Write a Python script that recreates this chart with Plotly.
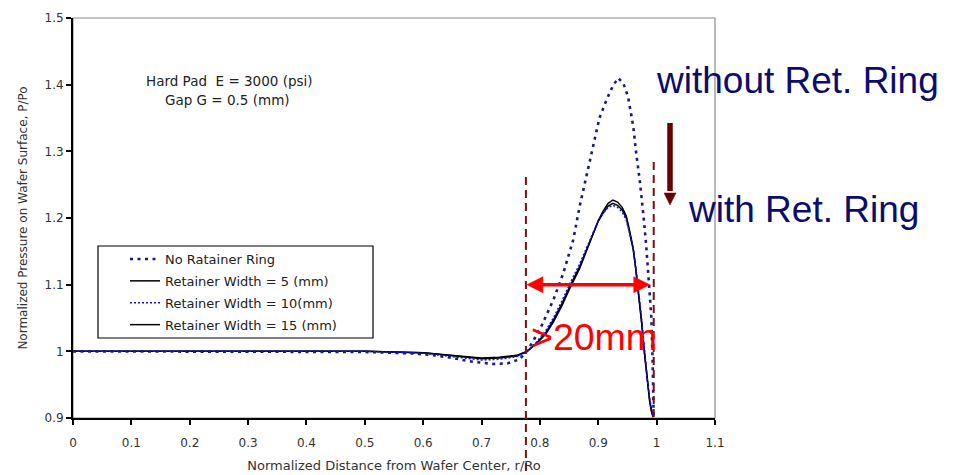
import plotly.graph_objects as go

# ---------------- data ----------------
x_noring = [0, 0.1, 0.2, 0.3, 0.4, 0.5, 0.58, 0.62, 0.65, 0.68, 0.72, 0.745, 0.765, 0.78,
            0.80, 0.823, 0.84, 0.857, 0.868, 0.882, 0.894, 0.902, 0.914, 0.925, 0.934,
            0.943, 0.951, 0.96, 0.965, 0.971, 0.977, 0.982, 0.987, 0.991, 0.993, 0.995]
y_noring = [1.0, 1.0, 1.0, 1.0, 1.0, 0.999, 0.997, 0.994, 0.99, 0.985, 0.981, 0.982, 0.988, 1.003,
            1.033, 1.077, 1.117, 1.167, 1.217, 1.272, 1.317, 1.35, 1.377, 1.398, 1.41,
            1.402, 1.382, 1.337, 1.297, 1.257, 1.207, 1.16, 1.1, 1.05, 0.99, 0.9]

x_w5 = [0, 0.1, 0.2, 0.3, 0.4, 0.5, 0.6, 0.65, 0.7, 0.73, 0.76, 0.777, 0.794, 0.81, 0.823,
        0.838, 0.851, 0.868, 0.881, 0.891, 0.9, 0.908, 0.917, 0.925, 0.933, 0.941, 0.948,
        0.954, 0.96, 0.964, 0.968, 0.974, 0.979, 0.984, 0.988, 0.991, 0.994]
y_w5 = [1.0, 1.0, 1.0, 1.0, 1.0, 1.0, 0.998, 0.993, 0.989, 0.99, 0.993, 0.999, 1.012, 1.028, 1.047,
        1.072, 1.097, 1.127, 1.155, 1.177, 1.195, 1.207, 1.218, 1.222, 1.219, 1.212, 1.2,
        1.177, 1.152, 1.125, 1.097, 1.047, 1.0, 0.955, 0.927, 0.912, 0.902]

x_w10 = [0, 0.1, 0.2, 0.3, 0.4, 0.5, 0.6, 0.65, 0.7, 0.73, 0.76, 0.777, 0.794, 0.81, 0.823,
         0.838, 0.851, 0.868, 0.881, 0.891, 0.9, 0.908, 0.917, 0.925, 0.933, 0.941, 0.948,
         0.954, 0.96, 0.964, 0.968, 0.974, 0.979, 0.984, 0.988, 0.991, 0.994]
y_w10 = [1.0, 1.0, 1.0, 1.0, 1.0, 1.0, 0.997, 0.992, 0.987, 0.988, 0.992, 0.999, 1.014, 1.031, 1.05,
         1.076, 1.101, 1.131, 1.158, 1.179, 1.196, 1.207, 1.216, 1.219, 1.216, 1.209, 1.197,
         1.176, 1.153, 1.127, 1.1, 1.05, 1.002, 0.958, 0.93, 0.914, 0.903]

x_w15 = [0, 0.1, 0.2, 0.3, 0.4, 0.5, 0.6, 0.65, 0.7, 0.73, 0.76, 0.777, 0.794, 0.81, 0.823,
         0.838, 0.851, 0.868, 0.881, 0.891, 0.9, 0.908, 0.917, 0.925, 0.933, 0.941, 0.948,
         0.954, 0.96, 0.964, 0.968, 0.974, 0.979, 0.984, 0.988, 0.991, 0.994]
y_w15 = [1.0, 1.0, 1.0, 1.0, 1.0, 1.0, 0.998, 0.994, 0.99, 0.991, 0.994, 1.0, 1.011, 1.026, 1.044,
         1.069, 1.094, 1.124, 1.153, 1.176, 1.196, 1.21, 1.222, 1.227, 1.224, 1.216, 1.203,
         1.18, 1.154, 1.126, 1.097, 1.045, 0.998, 0.953, 0.925, 0.91, 0.901]

names = ["No Ratainer Ring", "Retainer Width = 5 (mm)",
         "Retainer Width = 10(mm)", "Retainer Width = 15 (mm)"]

x_ticks = [0, 0.1, 0.2, 0.3, 0.4, 0.5, 0.6, 0.7, 0.8, 0.9, 1.0, 1.1]
x_ticklabels = ["0", "0.1", "0.2", "0.3", "0.4", "0.5", "0.6", "0.7", "0.8", "0.9", "1", "1.1"]
y_ticks = [0.9, 1.0, 1.1, 1.2, 1.3, 1.4, 1.5]
y_ticklabels = ["0.9", "1", "1.1", "1.2", "1.3", "1.4", "1.5"]

# zone markers (data units)
zone_left = 0.776
zone_right = 0.995
arrow_y = 1.1

# ---------------- figure ----------------
W, H = 960, 475
ML, MR, MT, MB = 73, 245, 18, 57
PW, PH = W - ML - MR, H - MT - MB


def px_x(px):
    return (px - ML) / PW


def px_y(py):
    return (H - MB - py) / PH


small_font = dict(family="DejaVu Sans", size=12, color="#333333")

fig = go.Figure()

fig.add_trace(go.Scatter(x=x_w5, y=y_w5, mode="lines", name=names[1], legendrank=2,
                         legendgroup="g2", line=dict(color="black", width=1.5)))
fig.add_trace(go.Scatter(x=x_w15, y=y_w15, mode="lines", name=names[3], legendrank=4,
                         legendgroup="g4", line=dict(color="black", width=1.5)))
fig.add_trace(go.Scatter(x=x_w10, y=y_w10, mode="lines", name=names[2], legendrank=3,
                         legendgroup="g3", line=dict(color="#1010ff", width=1.5, dash="2px,2px")))
fig.add_trace(go.Scatter(x=x_noring, y=y_noring, mode="lines", name=names[0], legendrank=1,
                         legendgroup="g1", line=dict(color="#18188a", width=2.6, dash="3px,4.5px")))

shapes = []
# plot frame (grey top/right)
shapes.append(dict(type="rect", xref="paper", yref="paper", x0=0, x1=1, y0=0, y1=1,
                   line=dict(color="#8c8c8c", width=1.2), layer="below"))
# legend box
shapes.append(dict(type="rect", xref="paper", yref="paper",
                   x0=px_x(98), x1=px_x(373), y0=px_y(338), y1=px_y(246),
                   line=dict(color="black", width=1.2), fillcolor="white", layer="below"))
# dashed zone lines
dash_col = "#7a1212"
shapes.append(dict(type="line", xref="paper", yref="paper",
                   x0=zone_left / 1.1, x1=zone_left / 1.1, y0=px_y(177), y1=px_y(475),
                   line=dict(color=dash_col, width=2, dash="8px,5px")))
shapes.append(dict(type="line", xref="paper", yref="paper",
                   x0=zone_right / 1.1, x1=zone_right / 1.1, y0=px_y(162), y1=px_y(420),
                   line=dict(color=dash_col, width=2, dash="8px,5px")))
# red double arrow
ux = 1.1 / PW   # data per px in x
uy = 0.6 / PH   # data per px in y
a0, a1 = zone_left + 1 * ux, zone_right - 4 * ux
hl, hw = 16 * ux, 8 * uy
shapes.append(dict(type="line", x0=a0 + hl * 0.8, x1=a1 - hl * 0.8, y0=arrow_y, y1=arrow_y,
                   line=dict(color="#ff0000", width=3.5)))
shapes.append(dict(type="path", path=f"M{a0},{arrow_y} L{a0 + hl},{arrow_y + hw} L{a0 + hl},{arrow_y - hw} Z",
                   fillcolor="#ff0000", line=dict(color="#ff0000", width=0.5)))
shapes.append(dict(type="path", path=f"M{a1},{arrow_y} L{a1 - hl},{arrow_y + hw} L{a1 - hl},{arrow_y - hw} Z",
                   fillcolor="#ff0000", line=dict(color="#ff0000", width=0.5)))
# dark red down arrow
dx = (670 - ML) * ux
y_top = 1.5 - (123 - MT) * uy
y_hb = 1.5 - (193 - MT) * uy
y_tip = 1.5 - (205 - MT) * uy
shapes.append(dict(type="line", x0=dx, x1=dx, y0=y_top, y1=y_hb + 2 * uy,
                   line=dict(color="#660000", width=5.5)))
shapes.append(dict(type="path", path=f"M{dx - 6 * ux},{y_hb} L{dx + 6 * ux},{y_hb} L{dx},{y_tip} Z",
                   fillcolor="#660000", line=dict(color="#660000", width=0.5)))

annotations = [
    dict(text="Hard Pad  E = 3000 (psi)", x=px_x(229), y=px_y(81), xref="paper", yref="paper",
         xanchor="center", yanchor="middle", showarrow=False,
         font=dict(family="DejaVu Sans", size=13.5, color="#222222")),
    dict(text="Gap G = 0.5 (mm)", x=px_x(227.5), y=px_y(100), xref="paper", yref="paper",
         xanchor="center", yanchor="middle", showarrow=False,
         font=dict(family="DejaVu Sans", size=13.5, color="#222222")),
    dict(text="without Ret. Ring", x=px_x(654), y=px_y(81), xref="paper", yref="paper",
         xanchor="left", yanchor="middle", showarrow=False,
         font=dict(family="Liberation Sans", size=37, color="#0c0c6e")),
    dict(text="with Ret. Ring", x=px_x(686), y=px_y(209), xref="paper", yref="paper",
         xanchor="left", yanchor="middle", showarrow=False,
         font=dict(family="Liberation Sans", size=37, color="#0c0c6e")),
    dict(text="&gt;20mm", x=px_x(529), y=px_y(337), xref="paper", yref="paper",
         xanchor="left", yanchor="middle", showarrow=False,
         font=dict(family="Liberation Sans", size=37.5, color="#ff0000")),
]

fig.update_layout(
    width=W, height=H, autosize=False,
    margin=dict(l=ML, r=MR, t=MT, b=MB, pad=0, autoexpand=False),
    paper_bgcolor="white", plot_bgcolor="white",
    showlegend=True,
    legend=dict(x=px_x(125), y=px_y(244), xanchor="left", yanchor="top",
                bgcolor="rgba(0,0,0,0)", borderwidth=0, tracegroupgap=2,
                font=dict(family="DejaVu Sans", size=13, color="#222222"),
                traceorder="grouped"),
    shapes=shapes,
    annotations=annotations,
    xaxis=dict(range=[0, 1.1], tickvals=x_ticks, ticktext=x_ticklabels, automargin=False,
               showgrid=False, zeroline=False, showline=True, linecolor="black", linewidth=2,
               ticks="outside", ticklen=5, tickwidth=1.5, tickcolor="black",
               tickfont=small_font, ticklabelstandoff=8,
               title=dict(text="Normalized Distance from Wafer Center, r/Ro",
                          font=dict(family="DejaVu Sans", size=13, color="#333333"), standoff=11)),
    yaxis=dict(range=[0.9, 1.5], tickvals=y_ticks, ticktext=y_ticklabels, automargin=False,
               showgrid=False, zeroline=False, showline=True, linecolor="black", linewidth=2,
               ticks="outside", ticklen=5, tickwidth=1.5, tickcolor="black",
               tickfont=small_font,
               title=dict(text="Normalized Pressure on Wafer Surface, P/Po",
                          font=dict(family="DejaVu Sans", size=12, color="#333333"), standoff=14)),
)

# the page's default body margin would shift the figure by 8 px; remove it
fig.write_html("out.html", config={"displayModeBar": False},
               post_script="document.body.style.margin='0';document.body.style.padding='0';")
